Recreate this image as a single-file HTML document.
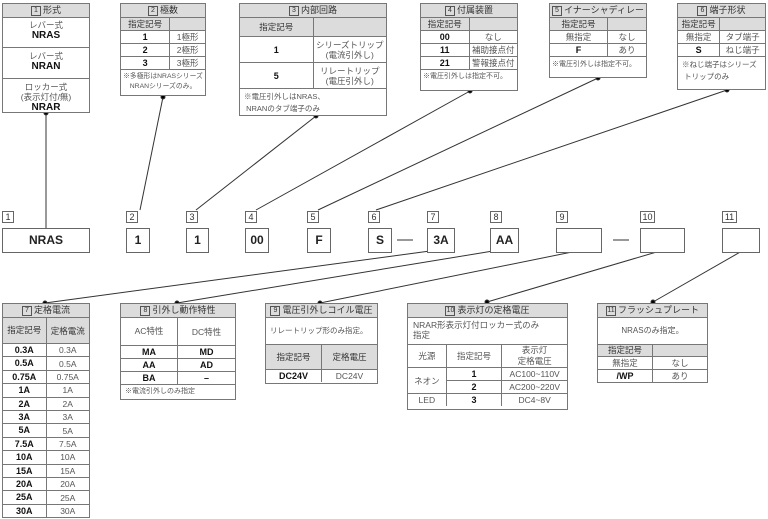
<!DOCTYPE html>
<html><head><meta charset="utf-8"><style>
body{margin:0;width:768px;height:519px;background:#fff;position:relative;overflow:hidden;font-family:"Liberation Sans","Noto Sans CJK JP",sans-serif;color:#222}
.b{position:absolute;border:1.5px solid #777;background:#fff;box-sizing:border-box;overflow:hidden}
table{border-collapse:collapse;width:100%;font-size:8.5px;color:#555}
td{border:1px solid #777;text-align:center;padding:0;line-height:12px}
td.h{background:#dcdcdc;color:#333}
td.k{font-weight:bold;color:#111;font-size:9px}
.hd{background:#dcdcdc;text-align:center;font-size:9px;line-height:13px;border-bottom:1px solid #777;color:#333;white-space:nowrap}
.n{display:inline-block;border:1px solid #555;font-size:7px;line-height:8px;width:8px;text-align:center;margin-right:2px;vertical-align:1px}
.note{font-size:7.5px;color:#555;padding:2px 4px;line-height:10px;white-space:nowrap}
.s{position:absolute;border:1.5px solid #666;box-sizing:border-box;height:25px;top:228px;font-weight:bold;font-size:12px;text-align:center;line-height:22px;background:#fff}
.l{position:absolute;top:211px;font-size:9px;border:1px solid #666;line-height:10px;width:10px;text-align:center;color:#333}
</style></head><body>
<svg width="768" height="519" style="position:absolute;left:0;top:0" stroke="#333" stroke-width="1">
<line x1="46" y1="113" x2="46" y2="228"/><circle cx="46" cy="113" r="2" fill="#000"/>
<line x1="163" y1="97" x2="140" y2="210"/><circle cx="163" cy="97" r="2" fill="#000"/>
<line x1="316" y1="116" x2="196" y2="210"/><circle cx="316" cy="116" r="2" fill="#000"/>
<line x1="470" y1="91" x2="256" y2="210"/><circle cx="470" cy="91" r="2" fill="#000"/>
<line x1="598" y1="78" x2="318" y2="210"/><circle cx="598" cy="78" r="2" fill="#000"/>
<line x1="727" y1="90" x2="376" y2="210"/><circle cx="727" cy="90" r="2" fill="#000"/>
<line x1="45" y1="303" x2="430" y2="251"/><circle cx="45" cy="303" r="2" fill="#000"/>
<line x1="177" y1="303" x2="493" y2="251"/><circle cx="177" cy="303" r="2" fill="#000"/>
<line x1="320" y1="303" x2="577" y2="251"/><circle cx="320" cy="303" r="2" fill="#000"/>
<line x1="487" y1="302" x2="660" y2="251"/><circle cx="487" cy="302" r="2" fill="#000"/>
<line x1="653" y1="302" x2="742" y2="251"/><circle cx="653" cy="302" r="2" fill="#000"/>
<line x1="397" y1="240" x2="413" y2="240"/><line x1="613" y1="240" x2="629" y2="240"/>
</svg>

<div class="b" style="left:2px;top:3px;width:88px;height:110px">
<div class="hd"><span class="n">1</span>形式</div>
<div style="text-align:center;font-size:8.5px;color:#555;line-height:10px;border-bottom:1px solid #777;height:27px;padding-top:2px">レバー式<br><b style="color:#111;font-size:10px">NRAS</b></div>
<div style="text-align:center;font-size:8.5px;color:#555;line-height:10px;border-bottom:1px solid #777;height:27px;padding-top:3px">レバー式<br><b style="color:#111;font-size:10px">NRAN</b></div>
<div style="text-align:center;font-size:8.5px;color:#555;line-height:10px;padding-top:3px">ロッカー式<br>(表示灯付/無)<br><b style="color:#111;font-size:10px">NRAR</b></div>
</div>

<div class="b" style="left:120px;top:3px;width:86px;height:93px">
<div class="hd"><span class="n">2</span>極数</div>
<table><tr><td class="h" style="width:58%;border-top:0;border-left:0">指定記号</td><td class="h" style="border-top:0;border-right:0"></td></tr>
<tr><td class="k" style="border-left:0">1</td><td style="border-right:0">1極形</td></tr>
<tr><td class="k" style="border-left:0">2</td><td style="border-right:0">2極形</td></tr>
<tr><td class="k" style="border-left:0">3</td><td style="border-right:0">3極形</td></tr></table>
<div class="note" style="text-align:center;font-size:6.8px;padding:2px 0">※多極形はNRASシリーズ<br>NRANシリーズのみ。</div>
</div>

<div class="b" style="left:239px;top:3px;width:148px;height:113px">
<div class="hd"><span class="n">3</span>内部回路</div>
<table><tr><td class="h" style="width:50%;border-top:0;border-left:0;line-height:18px">指定記号</td><td class="h" style="border-top:0;border-right:0"></td></tr>
<tr><td class="k" style="border-left:0;height:25px">1</td><td style="border-right:0;line-height:10px">シリーズトリップ<br>(電流引外し)</td></tr>
<tr><td class="k" style="border-left:0;height:25px">5</td><td style="border-right:0;line-height:10px">リレートリップ<br>(電圧引外し)</td></tr></table>
<div class="note" style="line-height:12px">※電圧引外しはNRAS、<br>&nbsp;NRANのタブ端子のみ</div>
</div>

<div class="b" style="left:420px;top:3px;width:98px;height:88px">
<div class="hd"><span class="n">4</span>付属装置</div>
<table><tr><td class="h" style="width:50%;border-top:0;border-left:0">指定記号</td><td class="h" style="border-top:0;border-right:0"></td></tr>
<tr><td class="k" style="border-left:0">00</td><td style="border-right:0">なし</td></tr>
<tr><td class="k" style="border-left:0">11</td><td style="border-right:0">補助接点付</td></tr>
<tr><td class="k" style="border-left:0">21</td><td style="border-right:0">警報接点付</td></tr></table>
<div class="note" style="font-size:7px;padding:2px 2px">※電圧引外しは指定不可。</div>
</div>

<div class="b" style="left:549px;top:3px;width:98px;height:75px">
<div class="hd"><span class="n">5</span>イナーシャディレー</div>
<table><tr><td class="h" style="width:60%;border-top:0;border-left:0">指定記号</td><td class="h" style="border-top:0;border-right:0"></td></tr>
<tr><td style="border-left:0">無指定</td><td style="border-right:0">なし</td></tr>
<tr><td class="k" style="border-left:0">F</td><td style="border-right:0">あり</td></tr></table>
<div class="note" style="font-size:7px;padding:3px 2px">※電圧引外しは指定不可。</div>
</div>

<div class="b" style="left:677px;top:3px;width:89px;height:87px">
<div class="hd"><span class="n">6</span>端子形状</div>
<table><tr><td class="h" style="width:48%;border-top:0;border-left:0">指定記号</td><td class="h" style="border-top:0;border-right:0"></td></tr>
<tr><td style="border-left:0">無指定</td><td style="border-right:0">タブ端子</td></tr>
<tr><td class="k" style="border-left:0">S</td><td style="border-right:0">ねじ端子</td></tr></table>
<div class="note" style="line-height:12px">※ねじ端子はシリーズ<br>&nbsp;トリップのみ</div>
</div>

<div class="l" style="left:2px">1</div><div class="s" style="left:2px;width:88px">NRAS</div>
<div class="l" style="left:126px">2</div><div class="s" style="left:126px;width:24px">1</div>
<div class="l" style="left:186px">3</div><div class="s" style="left:186px;width:23px">1</div>
<div class="l" style="left:245px">4</div><div class="s" style="left:245px;width:24px">00</div>
<div class="l" style="left:307px">5</div><div class="s" style="left:307px;width:24px">F</div>
<div class="l" style="left:368px">6</div><div class="s" style="left:368px;width:24px">S</div>
<div class="l" style="left:427px">7</div><div class="s" style="left:427px;width:28px">3A</div>
<div class="l" style="left:490px">8</div><div class="s" style="left:490px;width:29px">AA</div>
<div class="l" style="left:556px">9</div><div class="s" style="left:556px;width:46px"></div>
<div class="l" style="left:640px;width:13px">10</div><div class="s" style="left:640px;width:45px"></div>
<div class="l" style="left:722px;width:13px">11</div><div class="s" style="left:722px;width:38px"></div>

<div class="b" style="left:2px;top:303px;width:88px;height:215px">
<div class="hd"><span class="n">7</span>定格電流</div>
<table style="font-size:8.5px"><tr><td class="h" style="border-top:0;border-left:0;line-height:25px">指定記号</td><td class="h" style="border-top:0;border-right:0">定格電流</td></tr>
<tr><td class="k" style="border-left:0;line-height:12.4px">0.3A</td><td style="border-right:0">0.3A</td></tr>
<tr><td class="k" style="border-left:0;line-height:12.4px">0.5A</td><td style="border-right:0">0.5A</td></tr>
<tr><td class="k" style="border-left:0;line-height:12.4px">0.75A</td><td style="border-right:0">0.75A</td></tr>
<tr><td class="k" style="border-left:0;line-height:12.4px">1A</td><td style="border-right:0">1A</td></tr>
<tr><td class="k" style="border-left:0;line-height:12.4px">2A</td><td style="border-right:0">2A</td></tr>
<tr><td class="k" style="border-left:0;line-height:12.4px">3A</td><td style="border-right:0">3A</td></tr>
<tr><td class="k" style="border-left:0;line-height:12.4px">5A</td><td style="border-right:0">5A</td></tr>
<tr><td class="k" style="border-left:0;line-height:12.4px">7.5A</td><td style="border-right:0">7.5A</td></tr>
<tr><td class="k" style="border-left:0;line-height:12.4px">10A</td><td style="border-right:0">10A</td></tr>
<tr><td class="k" style="border-left:0;line-height:12.4px">15A</td><td style="border-right:0">15A</td></tr>
<tr><td class="k" style="border-left:0;line-height:12.4px">20A</td><td style="border-right:0">20A</td></tr>
<tr><td class="k" style="border-left:0;line-height:12.4px">25A</td><td style="border-right:0">25A</td></tr>
<tr><td class="k" style="border-left:0;border-bottom:0;line-height:12.4px">30A</td><td style="border-right:0;border-bottom:0">30A</td></tr></table>
</div>

<div class="b" style="left:120px;top:303px;width:116px;height:97px">
<div class="hd"><span class="n">8</span>引外し動作特性</div>
<table><tr><td style="border-top:0;border-left:0;line-height:27px">AC特性</td><td style="border-top:0;border-right:0">DC特性</td></tr>
<tr><td class="k" style="border-left:0">MA</td><td class="k" style="border-right:0">MD</td></tr>
<tr><td class="k" style="border-left:0">AA</td><td class="k" style="border-right:0">AD</td></tr>
<tr><td class="k" style="border-left:0">BA</td><td class="k" style="border-right:0">–</td></tr></table>
<div class="note" style="font-size:7px">※電流引外しのみ指定</div>
</div>

<div class="b" style="left:265px;top:303px;width:113px;height:81px">
<div class="hd"><span class="n">9</span>電圧引外しコイル電圧</div>
<div class="note" style="line-height:26px;font-size:7.5px;padding:0 4px">リレートリップ形のみ指定。</div>
<table><tr><td class="h" style="border-left:0;line-height:24px">指定記号</td><td class="h" style="border-right:0">定格電圧</td></tr>
<tr><td class="k" style="border-left:0;border-bottom:0">DC24V</td><td style="border-right:0;border-bottom:0">DC24V</td></tr></table>
</div>

<div class="b" style="left:407px;top:303px;width:161px;height:107px">
<div class="hd"><span class="n">10</span>表示灯の定格電圧</div>
<div class="note" style="font-size:8.5px;padding:2px 5px;height:22px">NRAR形表示灯付ロッカー式のみ<br>指定</div>
<table><tr><td style="border-left:0;width:24%;line-height:13px">光源</td><td style="width:35%">指定記号</td><td style="border-right:0;line-height:11px">表示灯<br>定格電圧</td></tr>
<tr><td rowspan="2" style="border-left:0">ネオン</td><td class="k">1</td><td style="border-right:0">AC100~110V</td></tr>
<tr><td class="k">2</td><td style="border-right:0">AC200~220V</td></tr>
<tr><td style="border-left:0;border-bottom:0">LED</td><td class="k" style="border-bottom:0">3</td><td style="border-right:0;border-bottom:0">DC4~8V</td></tr></table>
</div>

<div class="b" style="left:597px;top:303px;width:111px;height:80px">
<div class="hd"><span class="n">11</span>フラッシュプレート</div>
<div class="note" style="line-height:26px;font-size:8px;text-align:center;padding:0">NRASのみ指定。</div>
<table><tr><td class="h" style="border-left:0;width:50%;line-height:11px">指定記号</td><td class="h" style="border-right:0"></td></tr>
<tr><td style="border-left:0;line-height:11px">無指定</td><td style="border-right:0">なし</td></tr>
<tr><td class="k" style="border-left:0;border-bottom:0;line-height:11px">/WP</td><td style="border-right:0;border-bottom:0">あり</td></tr></table>
</div>
</body></html>
